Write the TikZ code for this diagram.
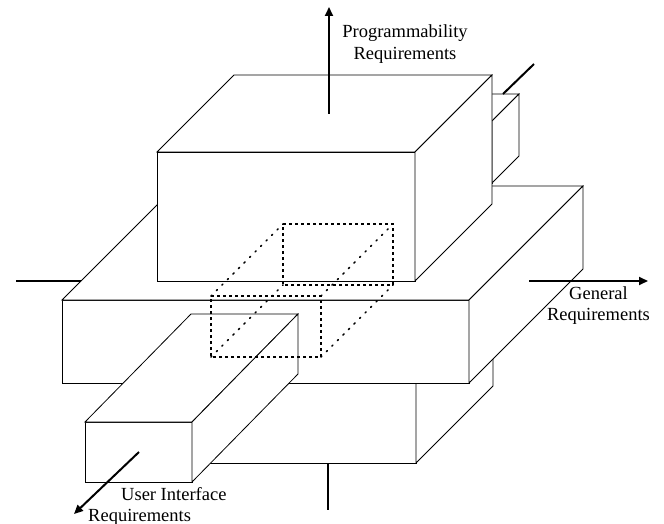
\documentclass[tikz,border=0pt]{standalone}
\usepackage{fontspec}
\setmainfont{Liberation Serif}
\usetikzlibrary{arrows.meta}
\tikzset{
  boxface/.style={draw=black, line width=0.8pt, fill=white, line join=miter},
  axisline/.style={line width=2pt},
  axisarrow/.style={line width=2pt, -{Triangle[length=9pt,width=8pt]}},
  hiddenedge/.style={line width=1.4pt, dash pattern=on 3pt off 3pt},
  hiddendepth/.style={line width=1.7pt, line cap=round, dash pattern=on 1.2pt off 6.6pt},
  lbl/.style={font=\fontsize{18.5}{21.5}\selectfont, inner sep=0pt}
}
\begin{document}
\begin{tikzpicture}[x=1pt, y=-1pt]
\useasboundingbox (0,0) rectangle (664,524);

% small back box (depth direction)
\draw[boxface] (430,121) rectangle (492,183);
\draw[boxface] (430,121) -- (457,94) -- (519,94) -- (492,121) -- cycle;
\draw[boxface] (492,121) -- (519,94) -- (519,156) -- (492,183) -- cycle;

% bottom box
\draw[boxface] (150,380) rectangle (416,463);
\draw[boxface] (150,380) -- (227,303) -- (493,303) -- (416,380) -- cycle;
\draw[boxface] (416,380) -- (493,303) -- (493,386) -- (416,463) -- cycle;

% general box
\draw[boxface] (62,300) rectangle (469,383);
\draw[boxface] (62,300) -- (176,186) -- (583,186) -- (469,300) -- cycle;
\draw[boxface] (469,300) -- (583,186) -- (583,269) -- (469,383) -- cycle;

% top (programmability) box
\draw[boxface] (157,152) rectangle (415,281);
\draw[boxface] (157,152) -- (234,75) -- (492,75) -- (415,152) -- cycle;
\draw[boxface] (415,152) -- (492,75) -- (492,204) -- (415,281) -- cycle;

% user interface box
\draw[boxface] (85,422) rectangle (192,482);
\draw[boxface] (85,422) -- (191,314) -- (298,314) -- (192,422) -- cycle;
\draw[boxface] (192,422) -- (298,314) -- (298,374) -- (192,482) -- cycle;

% dotted core box
\coordinate (fTL) at (211,296); \coordinate (fTR) at (321,296);
\coordinate (fBL) at (211,357); \coordinate (fBR) at (321,357);
\coordinate (bTL) at (283,224); \coordinate (bTR) at (393,224);
\coordinate (bBL) at (283,285); \coordinate (bBR) at (393,285);
\draw[hiddenedge] (bTL) -- (bTR) -- (bBR) -- (bBL) -- cycle;
\draw[hiddenedge] (fTL) -- (fTR) -- (fBR) -- (fBL) -- cycle;
\draw[hiddendepth] (fTL) -- (bTL);
\draw[hiddendepth] (fTR) -- (bTR);
\draw[hiddendepth] (fBL) -- (bBL);
\draw[hiddendepth] (fBR) -- (bBR);

% axes
\coordinate (pstart) at (329,114); \coordinate (ptip) at (329,7);
\coordinate (gstart) at (529,281); \coordinate (gtip) at (648,281);
\coordinate (lend) at (16,281);   \coordinate (lstart) at (81,281);
\coordinate (dstart) at (328,463); \coordinate (dend) at (328,510);
\coordinate (kstart) at (503,94);  \coordinate (kend) at (534,64);
\coordinate (ustart) at (139,452); \coordinate (utip) at (74,514);

\draw[axisarrow] (pstart) -- (ptip);
\draw[axisarrow] (gstart) -- (gtip);
\draw[axisarrow] (ustart) -- (utip);
\draw[axisline] (lstart) -- (lend);
\draw[axisline] (dstart) -- (dend);
\draw[axisline] (kstart) -- (kend);

% labels
\node[lbl, anchor=base] (proglbl) at (405,37.7)
  {\begin{tabular}[t]{@{}c@{}}Programmability\\Requirements\end{tabular}};
\node[lbl, anchor=base] (genlbl) at (598.5,299.3)
  {\begin{tabular}[t]{@{}c@{}}General\\Requirements\end{tabular}};
\node[lbl, anchor=base west] (uilbl) at (88,500)
  {\begin{tabular}[t]{@{}l@{}}\hspace*{33pt}User Interface\\Requirements\end{tabular}};
\end{tikzpicture}
\end{document}
